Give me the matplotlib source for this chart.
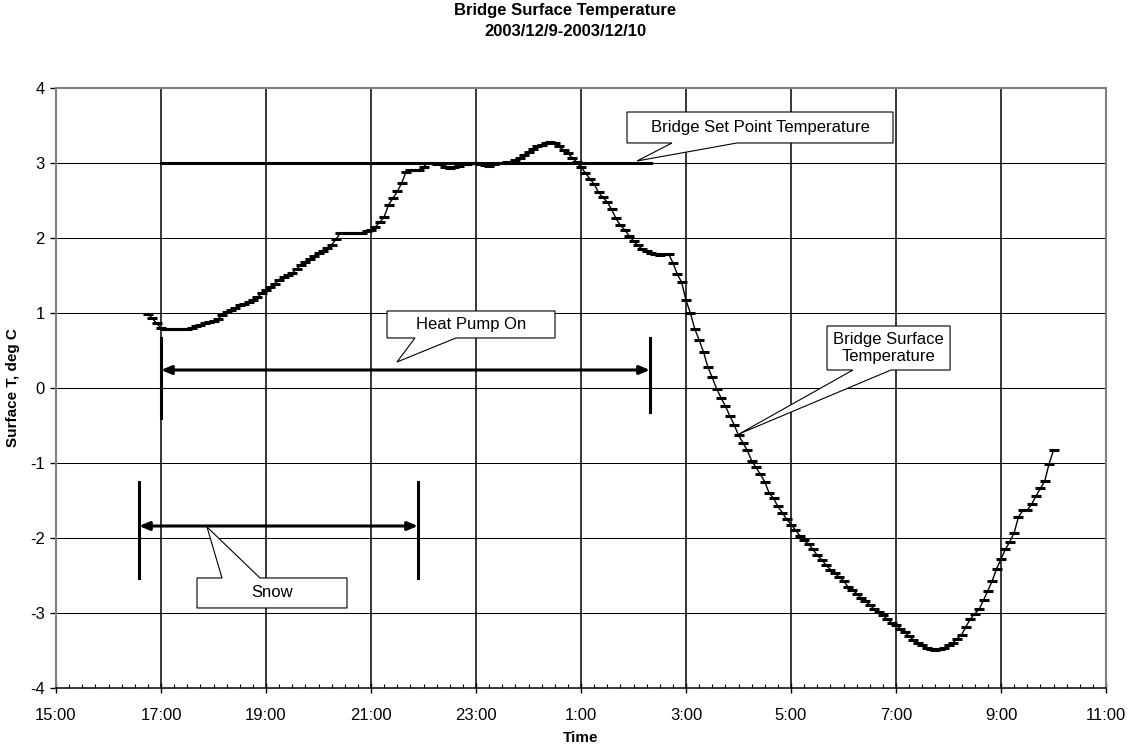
import numpy as np
import matplotlib
matplotlib.use("Agg")
import matplotlib.pyplot as plt
from matplotlib.patches import Polygon

plt.rcParams['font.family'] = ['Liberation Sans', 'DejaVu Sans']
plt.rcParams['axes.unicode_minus'] = False

# surface temperature, logged every 5 min starting 16:45 (deg C)
start_min = 105   # minutes after 15:00
step_min = 5
surface_temp = [
    0.99, 0.93, 0.86, 0.80, 0.79, 0.79, 0.78, 0.78, 0.78, 0.78,
    0.80, 0.82, 0.84, 0.86, 0.88, 0.89, 0.92, 0.97, 1.01, 1.04,
    1.07, 1.10, 1.12, 1.14, 1.17, 1.21, 1.26, 1.31, 1.35, 1.39,
    1.44, 1.48, 1.50, 1.53, 1.59, 1.64, 1.68, 1.72, 1.76, 1.80,
    1.83, 1.86, 1.91, 1.98, 2.07, 2.07, 2.07, 2.07, 2.07, 2.07,
    2.09, 2.11, 2.15, 2.21, 2.28, 2.44, 2.53, 2.62, 2.73, 2.88,
    2.91, 2.91, 2.91, 2.95, 3.00, 3.00, 2.99, 2.98, 2.95, 2.93,
    2.95, 2.96, 2.98, 2.99, 3.00, 3.00, 2.98, 2.97, 2.96, 2.98,
    3.00, 3.00, 3.01, 3.01, 3.04, 3.06, 3.11, 3.15, 3.19, 3.22,
    3.24, 3.26, 3.28, 3.26, 3.22, 3.17, 3.13, 3.07, 3.01, 2.94,
    2.87, 2.79, 2.72, 2.61, 2.54, 2.48, 2.38, 2.26, 2.17, 2.11,
    2.03, 1.96, 1.90, 1.85, 1.82, 1.80, 1.78, 1.77, 1.78, 1.79,
    1.67, 1.52, 1.41, 1.17, 1.00, 0.79, 0.64, 0.48, 0.28, 0.14,
    -0.01, -0.13, -0.24, -0.37, -0.49, -0.63, -0.73, -0.83, -0.97, -1.06,
    -1.15, -1.25, -1.40, -1.47, -1.58, -1.66, -1.75, -1.82, -1.89, -1.97,
    -2.03, -2.08, -2.15, -2.23, -2.29, -2.36, -2.42, -2.47, -2.52, -2.57,
    -2.65, -2.69, -2.74, -2.80, -2.84, -2.89, -2.95, -2.99, -3.03, -3.08,
    -3.13, -3.16, -3.21, -3.26, -3.31, -3.36, -3.40, -3.43, -3.46, -3.48,
    -3.49, -3.48, -3.46, -3.43, -3.40, -3.34, -3.29, -3.18, -3.08, -3.01,
    -2.95, -2.83, -2.70, -2.57, -2.41, -2.28, -2.15, -2.05, -1.93, -1.72,
    -1.63, -1.63, -1.55, -1.44, -1.34, -1.24, -1.01, -0.83,
]

# set point and event periods, hours after 15:00
set_point = 3.0
set_point_span = [2.0, 11.333]
heat_pump_span = [2.0, 11.314]
snow_span = [1.581, 6.895]

tick_hours = [0, 2, 4, 6, 8, 10, 12, 14, 16, 18, 20]
tick_labels = ["15:00", "17:00", "19:00", "21:00", "23:00", "1:00",
               "3:00", "5:00", "7:00", "9:00", "11:00"]

hours = (start_min + step_min * np.arange(len(surface_temp))) / 60.0

fig = plt.figure(figsize=(11.30, 7.46), dpi=100)
ax = fig.add_axes([56 / 1130, 1 - 688 / 746, 1050 / 1130, 600 / 746])

ax.set_xlim(0, 20)
ax.set_ylim(-4, 4)

# grid
for h in tick_hours[1:-1]:
    ax.axvline(h, color='black', lw=1.1, zorder=1)
for v in range(-3, 4):
    ax.axhline(v, color='black', lw=0.75, zorder=1)

for side in ['top', 'right', 'left']:
    ax.spines[side].set_color('#808080')
    ax.spines[side].set_linewidth(1.5)
ax.spines['bottom'].set_color('black')
ax.spines['bottom'].set_linewidth(1.1)

ax.set_xticks(tick_hours)
ax.set_xticklabels(tick_labels, fontsize=12)
ax.set_xticks(np.arange(0, 20.01, 0.25), minor=True)
ax.tick_params(axis='x', which='major', direction='inout', length=7, width=1, pad=11)
ax.tick_params(axis='x', which='minor', direction='in', length=3, width=0.8)
ax.set_yticks(range(-4, 5))
ax.tick_params(axis='y', which='major', direction='out', length=4, width=1, labelsize=12, pad=4)

ax.set_xlabel("Time", fontsize=11, fontweight='bold', va='center')
ax.xaxis.set_label_coords(0.5, -(738 - 688) / 600)
ax.set_ylabel("Surface T, deg C", fontsize=11, fontweight='bold', va='center')
ax.yaxis.set_label_coords(-(56 - 13) / 1050, 0.5)

fig.text(0.5, 1 - 10 / 746, "Bridge Surface Temperature", ha='center', va='center',
         fontsize=12, fontweight='bold')
fig.text(0.5, 1 - 32 / 746, "2003/12/9-2003/12/10", ha='center', va='center',
         fontsize=12, fontweight='bold')

# temperature curve
ax.plot(hours, surface_temp, color='black', lw=1.0, marker='_', markersize=7,
        markeredgewidth=2.2, zorder=4)

# set point line
ax.plot(set_point_span, [set_point, set_point], color='black', lw=2.2, zorder=3)


def span_arrow(span, y, bar_low, bar_high):
    ax.annotate("", xy=(span[1], y), xytext=(span[0], y),
                arrowprops=dict(arrowstyle='<|-|>,head_length=0.6,head_width=0.25',
                                color='black', lw=2.2, shrinkA=0, shrinkB=0),
                zorder=3)
    for x, lo in zip(span, bar_low):
        ax.plot([x, x], [lo, bar_high], color='black', lw=2.2, zorder=3)


span_arrow(heat_pump_span, 0.24, [-0.40, -0.32], 0.67)
span_arrow(snow_span, -1.84, [-2.53, -2.53], -1.25)


def callout(text, x0, x1, y0, y1, base, tip, below=True):
    # box with a wedge pointer on its bottom (or top) edge
    if below:
        pts = [(x0, y1), (x1, y1), (x1, y0), (base[1], y0), tip, (base[0], y0), (x0, y0)]
    else:
        pts = [(x0, y1), (base[0], y1), tip, (base[1], y1), (x1, y1), (x1, y0), (x0, y0)]
    ax.add_patch(Polygon(pts, closed=True, facecolor='white', edgecolor='black',
                         lw=0.8, zorder=5))
    ax.text((x0 + x1) / 2, (y0 + y1) / 2, text, ha='center', va='center',
            fontsize=12, zorder=6, linespacing=1.1)


callout("Bridge Set Point Temperature", 10.876, 15.943, 3.267, 3.68,
        (11.733, 12.971), (11.067, 3.027))
callout("Heat Pump On", 6.305, 9.505, 0.667, 1.027, (6.838, 7.619), (6.495, 0.347))
callout("Bridge Surface\nTemperature", 14.686, 17.03, 0.24, 0.827,
        (15.18, 15.905), (13.01, -0.613))
callout("Snow", 2.686, 5.543, -2.933, -2.533, (3.162, 3.886), (2.876, -1.853),
        below=False)

fig.savefig("out.png", dpi=100)
